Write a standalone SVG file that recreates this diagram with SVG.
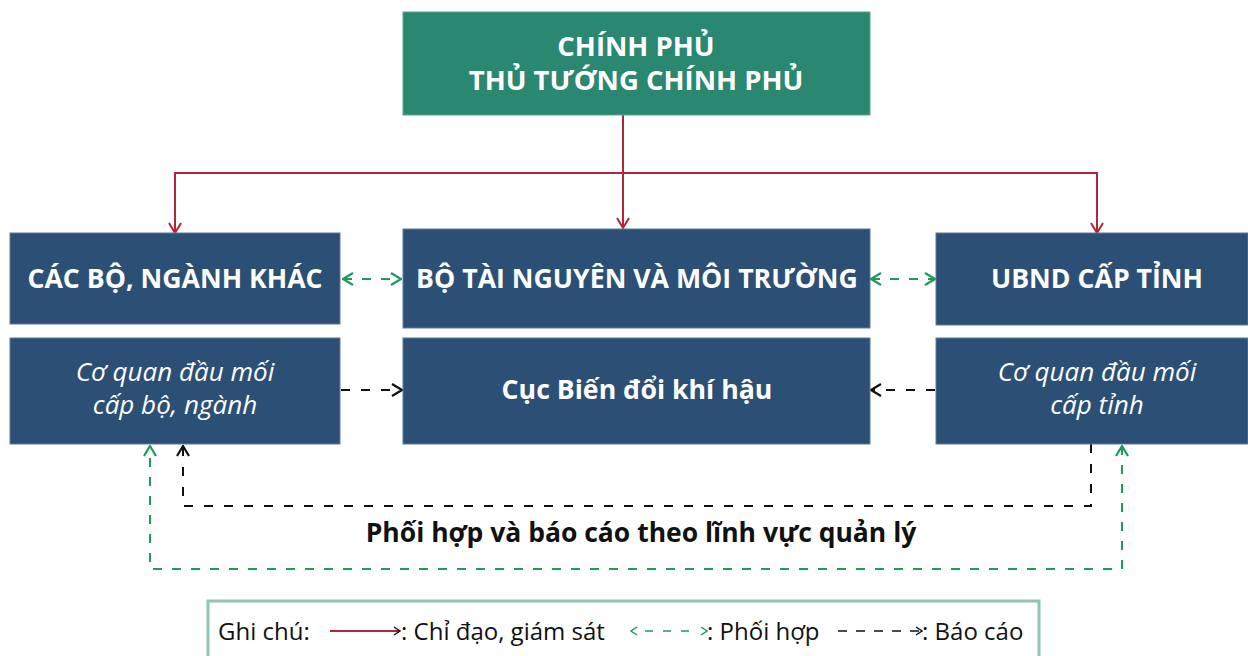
<svg xmlns="http://www.w3.org/2000/svg" width="1248" height="656" viewBox="0 0 1248 656">
<style>
.box{fill:#2c5075;stroke:#5a7b9e;stroke-width:1}
.top{fill:#2a8770;stroke:#5aa58f;stroke-width:1}
.tb{font-family:"Open Sans","Noto Sans",sans-serif;font-weight:700;font-size:26.7px;fill:#ffffff;text-anchor:middle}
.tt{font-family:"Open Sans","Noto Sans",sans-serif;font-weight:700;font-size:27.5px;fill:#ffffff;text-anchor:middle}
.ti{font-family:"Open Sans","Noto Sans",sans-serif;font-style:italic;font-size:26px;fill:#ffffff;text-anchor:middle}
.red{fill:none;stroke:#b3263a;stroke-width:2}
.grn{fill:none;stroke:#1f9a5b;stroke-width:2;stroke-dasharray:9 10}
.blk{fill:none;stroke:#111111;stroke-width:2;stroke-dasharray:9 11}
.lbl{font-family:"Open Sans","Noto Sans",sans-serif;font-weight:700;font-size:26.5px;fill:#111111;text-anchor:middle}
.leg{font-family:"Open Sans","Noto Sans",sans-serif;font-size:24px;fill:#111111}
</style>
<defs>
<marker id="mr" viewBox="0 0 12 14" refX="11" refY="7" markerWidth="12" markerHeight="14" markerUnits="userSpaceOnUse" orient="auto-start-reverse"><polyline points="1,1 11,7 1,13" fill="none" stroke="#b3263a" stroke-width="2"/></marker>
<marker id="mg" viewBox="0 0 12 14" refX="11" refY="7" markerWidth="12" markerHeight="14" markerUnits="userSpaceOnUse" orient="auto-start-reverse"><polyline points="1,1 11,7 1,13" fill="none" stroke="#1f9a5b" stroke-width="2.2"/></marker>
<marker id="mb" viewBox="0 0 12 14" refX="11" refY="7" markerWidth="12" markerHeight="14" markerUnits="userSpaceOnUse" orient="auto-start-reverse"><polyline points="1,1 11,7 1,13" fill="none" stroke="#111111" stroke-width="2.2"/></marker>
<marker id="mgs" viewBox="0 0 8 10" refX="7" refY="5" markerWidth="8" markerHeight="10" markerUnits="userSpaceOnUse" orient="auto-start-reverse"><polyline points="1,1 7,5 1,9" fill="none" stroke="#1f9a5b" stroke-width="1.5"/></marker>
<marker id="mbs" viewBox="0 0 8 10" refX="7" refY="5" markerWidth="8" markerHeight="10" markerUnits="userSpaceOnUse" orient="auto-start-reverse"><polyline points="1,1 7,5 1,9" fill="none" stroke="#111111" stroke-width="1.5"/></marker>
</defs>
<rect width="1248" height="656" fill="#ffffff"/>
<g id="connectors">
<path class="red" d="M623,115 V228" marker-end="url(#mr)"/>
<path class="red" d="M1097,233 V173 H175 V233" marker-start="url(#mr)" marker-end="url(#mr)"/>
<path class="grn" d="M343,279 H401" marker-start="url(#mg)" marker-end="url(#mg)"/>
<path class="grn" d="M871,279 H935" marker-start="url(#mg)" marker-end="url(#mg)"/>
<path class="blk" d="M341,390 H402" marker-end="url(#mb)"/>
<path class="blk" d="M935,390 H871" marker-end="url(#mb)"/>
<path class="blk" d="M1091,444 V506 H183 V446" marker-end="url(#mb)"/>
<path class="grn" d="M1122,446 V569 H150 V446" marker-start="url(#mg)" marker-end="url(#mg)"/>
</g>
<g id="n-chinhphu">
<rect class="top" x="403" y="12" width="467" height="103"/>
<text class="tt" x="636" y="56">CHÍNH PHỦ</text>
<text class="tt" x="636" y="90">THỦ TƯỚNG CHÍNH PHỦ</text>
</g>
<g id="n-cacbo">
<rect class="box" x="10" y="233" width="330" height="91"/>
<text class="tb" x="175" y="288">CÁC BỘ, NGÀNH KHÁC</text>
</g>
<g id="n-btnmt">
<rect class="box" x="403" y="229" width="467" height="99"/>
<text class="tb" x="637" y="288">BỘ TÀI NGUYÊN VÀ MÔI TRƯỜNG</text>
</g>
<g id="n-ubnd">
<rect class="box" x="936" y="233" width="312" height="92"/>
<text class="tb" x="1097" y="288">UBND CẤP TỈNH</text>
</g>
<g id="n-cqbo">
<rect class="box" x="10" y="338" width="330" height="106"/>
<text class="ti" x="175" y="381">Cơ quan đầu mối</text>
<text class="ti" x="175" y="414">cấp bộ, ngành</text>
</g>
<g id="n-cuc">
<rect class="box" x="403" y="338" width="467" height="106"/>
<text class="tb" x="637" y="399">Cục Biến đổi khí hậu</text>
</g>
<g id="n-cqtinh">
<rect class="box" x="936" y="338" width="312" height="106"/>
<text class="ti" x="1097" y="381">Cơ quan đầu mối</text>
<text class="ti" x="1097" y="414">cấp tỉnh</text>
</g>
<g id="label">
<text class="lbl" x="641" y="542">Phối hợp và báo cáo theo lĩnh vực quản lý</text>
</g>
<g id="legend">
<rect x="208" y="601" width="831" height="62" fill="#ffffff" stroke="#8fc5b1" stroke-width="3"/>
<text class="leg" x="218" y="640">Ghi chú:</text>
<path d="M330,631 H400" fill="none" stroke="#b3263a" stroke-width="1.8" marker-end="url(#mbs)"/>
<text class="leg" x="401" y="640">: Chỉ đạo, giám sát</text>
<path d="M631,631 H707" fill="none" stroke="#1f9a5b" stroke-width="1.5" stroke-dasharray="0 14 8 10 8 10 8 40" marker-start="url(#mgs)" marker-end="url(#mgs)"/>
<text class="leg" x="707" y="640">: Phối hợp</text>
<path d="M838,631 H922" fill="none" stroke="#111111" stroke-width="1.5" stroke-dasharray="9 9" marker-end="url(#mbs)"/>
<text class="leg" x="922" y="640">: Báo cáo</text>
</g>
</svg>
